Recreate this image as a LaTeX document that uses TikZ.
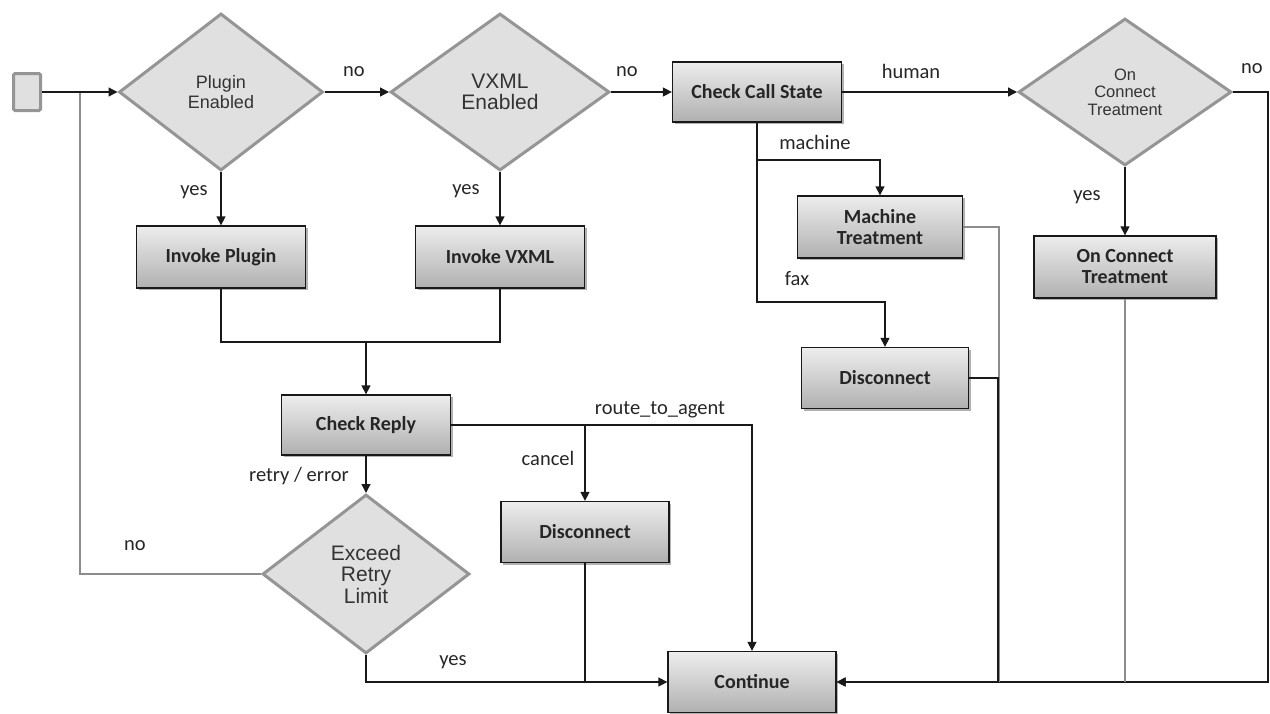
\documentclass[tikz,border=0pt]{standalone}
\usepackage{fontspec}
\setmainfont{Carlito}
\newfontfamily\dfont{Liberation Sans}
\usetikzlibrary{shapes.geometric,arrows.meta,shadows,calc}
\definecolor{dgrey}{HTML}{959595}
\definecolor{dfill}{HTML}{E0E0E0}
\definecolor{dtext}{HTML}{333333}
\definecolor{btop}{HTML}{EDEDED}
\definecolor{bbot}{HTML}{B0B0B0}
\definecolor{gline}{HTML}{8C8C8C}
\begin{document}
\begin{tikzpicture}[x=1pt,y=-1pt,
  dia/.style={diamond, draw=dgrey, line width=3pt, fill=dfill, inner sep=0pt, text=dtext, align=center},
  startbox/.style={rectangle, draw=dgrey, line width=3pt, fill=dfill, rounded corners=1.5pt, minimum width=27pt, minimum height=37pt, inner sep=0pt},
  box/.style={rectangle, draw=black!90, line width=1.3pt, top color=btop, bottom color=bbot, align=center, text=black!85,
    font=\bfseries\fontsize{20}{21}\selectfont,
    drop shadow={shadow xshift=2pt, shadow yshift=-2pt, opacity=0.3, fill=black}},
  lab/.style={font=\fontsize{20.5}{22}\selectfont, text=black!85, inner sep=0pt},
  line/.style={draw=black!90, line width=1.3pt},
  greyline/.style={draw=gline, line width=2pt},
  arr/.style={line, -{Triangle[length=9pt,width=9pt]}}
]
\useasboundingbox (0,0) rectangle (1270,713);

% nodes
\node[startbox] (start) at (27,92) {};
\node[dia, minimum width=204pt, minimum height=157pt, font=\dfont\fontsize{18}{19.5}\selectfont] (d1) at (221,92) {Plugin\\Enabled};
\node[dia, minimum width=219pt, minimum height=157pt, font=\dfont\fontsize{21}{20.5}\selectfont] (d2) at (500,92) {VXML\\Enabled};
\node[dia, minimum width=213pt, minimum height=147pt, font=\dfont\fontsize{16.5}{17.5}\selectfont] (d3) at (1125,92) {On\\Connect\\Treatment};
\node[dia, minimum width=207pt, minimum height=159pt, font=\dfont\fontsize{21}{21.5}\selectfont] (d4) at (366,574) {Exceed\\Retry\\Limit};

\node[box, minimum width=169pt, minimum height=60pt] (ccs) at (757,92) {Check Call State};
\node[box, minimum width=165pt, minimum height=62pt] (mt) at (880,227) {Machine\\Treatment};
\node[box, minimum width=167pt, minimum height=61pt] (discr) at (885,378) {Disconnect};
\node[box, minimum width=182pt, minimum height=62pt] (oct) at (1125,267) {On Connect\\Treatment};
\node[box, minimum width=169pt, minimum height=62pt] (ip) at (221,257) {Invoke Plugin};
\node[box, minimum width=169pt, minimum height=62pt] (iv) at (500,257) {Invoke VXML};
\node[box, minimum width=169pt, minimum height=60pt] (cr) at (366,425) {Check Reply};
\node[box, minimum width=168pt, minimum height=61pt] (discm) at (585,532) {Disconnect};
\node[box, minimum width=168pt, minimum height=61pt] (cont) at (752,682) {Continue};

% labels
\node[lab] (l1) at (354,72) {no};
\node[lab] (l2) at (627,72) {no};
\node[lab] (l3) at (911,71) {human};
\node[lab] (l4) at (1252,69) {no};
\node[lab] (l5) at (1087,197) {yes};
\node[lab] (l6) at (194,192) {yes};
\node[lab] (l7) at (466,191) {yes};
\node[lab] (l8) at (815,142) {machine};
\node[lab] (l9) at (797,279) {fax};
\node[lab] (l10) at (660,410) {route\_to\_agent};
\node[lab] (l11) at (548,458) {cancel};
\node[lab, anchor=east] (l12) at (349,476) {retry / error};
\node[lab] (l13) at (135,546) {no};
\node[lab] (l14) at (453,662) {yes};

% helper coordinates
\coordinate (j0) at (80,92);
\coordinate (rr) at (1268,92);
\coordinate (cm) at (880,160);
\coordinate (cf) at (885,302);
\coordinate (mr) at (999,227);
\coordinate (dr) at (998,378);
\coordinate (jm) at (366,342);
\coordinate (rt) at (752,425);
\coordinate (jc) at (585,425);

% connectors
\draw[greyline] (d4.west) -| (j0);
\draw[arr] (start.east) -- (d1.west);
\draw[arr] (d1.east) -- (d2.west);
\draw[arr] (d2.east) -- (ccs.west);
\draw[arr] (ccs.east) -- (d3.west);
\draw[arr] (d3.east) -- (rr) |- (cont.east);
\draw[arr] (d3.south) -- (oct.north);
\draw[greyline] (oct.south) -- (oct.south |- cont.east);
\draw[arr] (ccs.south) |- (cm) -- (mt.north);
\draw[arr] (ccs.south) |- (cf) -- (discr.north);
\draw[greyline] (mt.east) -- (mr) -- (mr |- cont.east);
\draw[arr] (discr.east) -- (dr) |- (cont.east);
\draw[arr] (d1.south) -- (ip.north);
\draw[arr] (d2.south) -- (iv.north);
\draw[line] (ip.south) |- (jm);
\draw[line] (iv.south) |- (jm);
\draw[arr] (jm) -- (cr.north);
\draw[arr] (cr.east) -- (rt) -- (cont.north);
\draw[arr] (jc) -- (discm.north);
\draw[arr] (cr.south) -- (d4.north);
\draw[arr] (d4.south) |- (cont.west);
\draw[line] (discm.south) -- (discm.south |- cont.west);
\end{tikzpicture}
\end{document}
